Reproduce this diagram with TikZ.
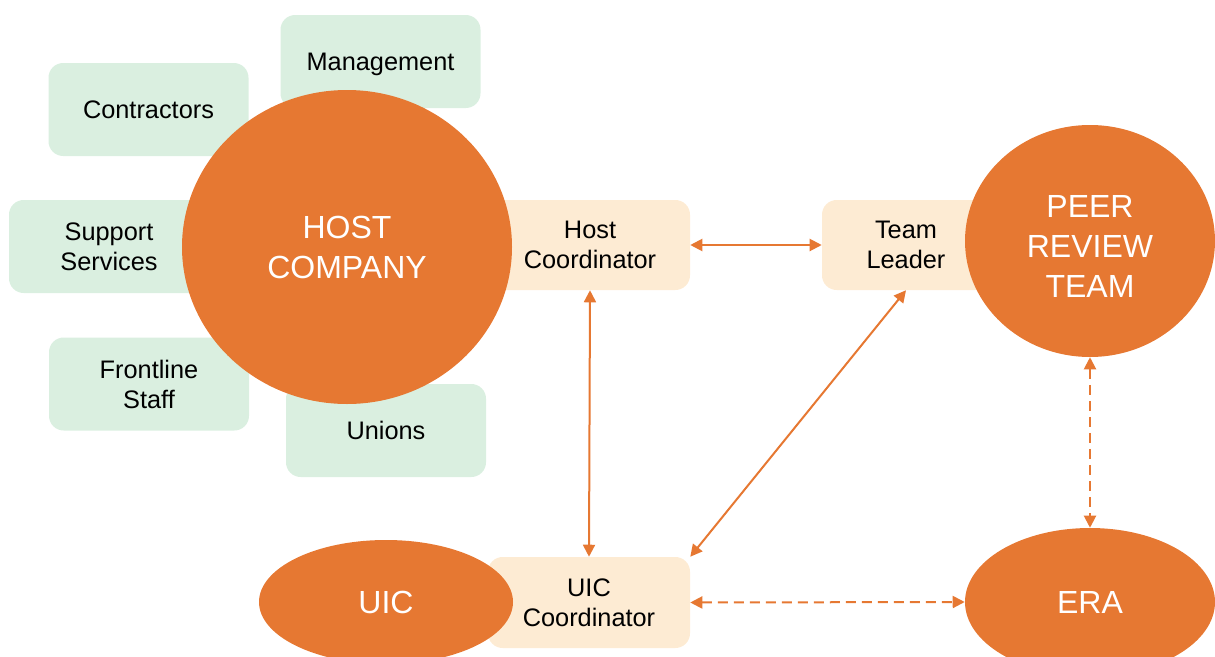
\documentclass[tikz,border=0pt]{standalone}
\usepackage{fontspec}
\setmainfont{Liberation Sans}
\usetikzlibrary{shapes.geometric,arrows.meta}
\definecolor{org}{RGB}{230,120,50}
\definecolor{grn}{RGB}{218,239,224}
\definecolor{crm}{RGB}{253,235,211}
\begin{document}
\begin{tikzpicture}[x=0.75pt,y=-0.75pt,
  greenbox/.style={rounded corners=11pt, fill=grn, minimum width=150pt, minimum height=69.75pt, inner sep=0pt, align=center, font=\fontsize{19}{22.5}\selectfont, text=black, text depth=0pt},
  creambox/.style={rounded corners=11pt, fill=crm, minimum height=67.5pt, inner sep=0pt, align=center, font=\fontsize{19}{22.5}\selectfont, text=black, text depth=0pt},
  bigell/.style={ellipse, fill=org, inner sep=0pt, align=center, font=\fontsize{24}{30}\selectfont, text=white},
  tipA/.style={draw=org, line width=1.5pt, {Triangle[length=9pt,width=9pt]}-{Triangle[length=9pt,width=9pt]}},
  tipD/.style={tipA, dash pattern=on 7.5pt off 4.5pt}
]
\useasboundingbox (0,0) rectangle (1215,657);
% stakeholder boxes
\node[greenbox] (mgmt) at (380.5,61.5) {Management};
\node[greenbox] (contr) at (148.5,109.5) {Contractors};
\node[greenbox] (supp) at (109,246.5) {Support\\Services};
\node[greenbox] (front) at (149,384) {Frontline\\Staff};
\node[greenbox] (unions) at (386,430.5) {Unions};
% coordinator boxes
\node[creambox, minimum width=150pt] (hc) at (590,245) {Host\\Coordinator};
\node[creambox, minimum width=126pt] (tl) at (906,245) {Team\\Leader};
\node[creambox, minimum width=151.5pt, minimum height=68.25pt] (uc) at (589,602.5) {UIC\\Coordinator};
% ellipses
\node[bigell, minimum width=247.5pt, minimum height=235.5pt] (host) at (347,247) {HOST\\COMPANY};
\node[bigell, minimum width=187.5pt, minimum height=174pt] (peer) at (1090,241) {\rule{0pt}{24.7pt}PEER\\REVIEW\\TEAM};
\node[bigell, minimum width=190.5pt, minimum height=93pt] (uic) at (386,602) {UIC};
\node[bigell, minimum width=187.5pt, minimum height=111pt] (era) at (1090,602) {ERA};
% connectors
\draw[tipA] (hc.east) -- (tl.west);
\draw[tipA] (hc.south) -- (uc.north);
\draw[tipA] (tl.south) -- (uc.north east);
\draw[tipD] (uc.east) -- (era.west);
\draw[tipD] (peer.south) -- (era.north);
\end{tikzpicture}
\end{document}
